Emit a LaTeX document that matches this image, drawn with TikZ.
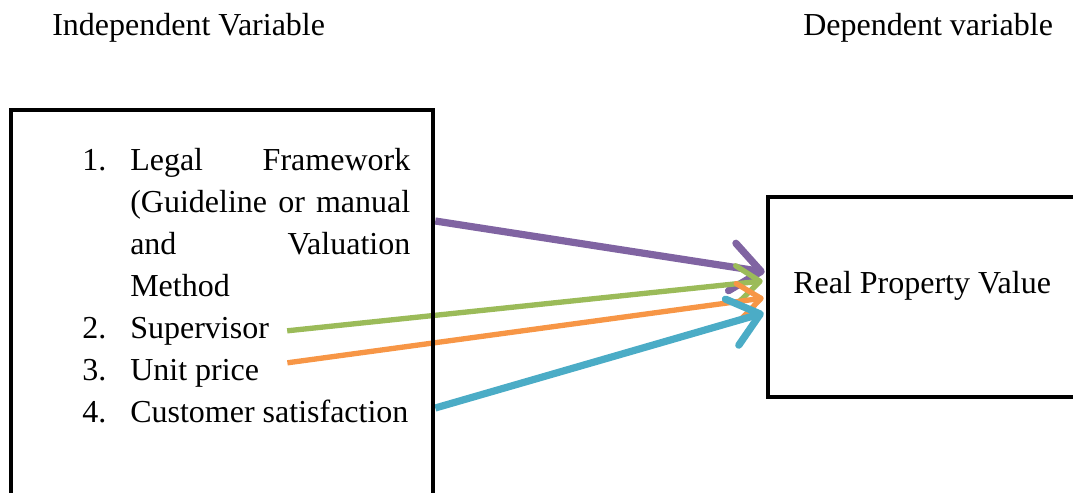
\documentclass[tikz,border=0pt]{standalone}
\usepackage{fontspec}
\setmainfont{Liberation Serif}
\usetikzlibrary{arrows.meta,calc,backgrounds}
\definecolor{vpurple}{HTML}{8064A2}
\definecolor{vgreen}{HTML}{9BBB59}
\definecolor{vorange}{HTML}{F79646}
\definecolor{vcyan}{HTML}{4BACC6}
\begin{document}
\begin{tikzpicture}[x=0.75pt,y=-0.75pt,
    every node/.style={font=\fontsize{24}{31.5}\selectfont, inner sep=0pt},
    box/.style={draw, line width=3.4pt},
    txt/.style={anchor=base west},
    big/.style={line width=5.4pt, -{Straight Barb[length=22pt,width=36pt,round]}},
    small/.style={line width=4pt, -{Straight Barb[length=17pt,width=27pt,round]}}]
  \path[use as bounding box, clip] (0,0) rectangle (1073,492);
  % headings
  \node[txt] (indephead) at (52,36) {Independent Variable};
  \node[txt] (dephead) at (803,36) {Dependent variable};
  % boxes
  \node[box, minimum width=316.5pt, minimum height=300pt] (indep) at (222,310) {};
  \node[box, minimum width=241.5pt, minimum height=150pt] (dep) at (929,297) {};
  \node[txt] (rpv) at (793,293) {Real Property Value};
  % list of variables
  \node[txt] (n1) at (82,170) {1.};
  \node[txt] (l1) at (130,170) {\makebox[210pt][s]{Legal Framework}};
  \node[txt] (l2) at (130,212) {\makebox[210pt][s]{(Guideline or manual}};
  \node[txt] (l3) at (130,254) {\makebox[210pt][s]{and Valuation}};
  \node[txt] (l4) at (130,296) {Method};
  \node[txt] (n2) at (82,338) {2.};
  \node[txt] (sup) at (130,338) {Supervisor};
  \node[txt] (n3) at (82,380) {3.};
  \node[txt] (unit) at (130,380) {Unit price};
  \node[txt] (n4) at (82,422) {4.};
  \node[txt] (cust) at (130,422) {Customer satisfaction};
  % arrows
  \begin{scope}[on background layer]
    \draw[big, vpurple] ($(indep.east)+(0,-89)$) -- ($(dep.west)+(-1,-25)$);
    \draw[small, vgreen] ($(sup.east)+(18,0)$) -- ($(dep.west)+(-3,-16)$);
    \draw[small, vorange] ($(unit.east)+(28,-10)$) -- ($(dep.west)+(-2,1)$);
    \draw[big, vcyan] ($(indep.east)+(0,98)$) -- ($(dep.west)+(-2,16)$);
  \end{scope}
\end{tikzpicture}
\end{document}
